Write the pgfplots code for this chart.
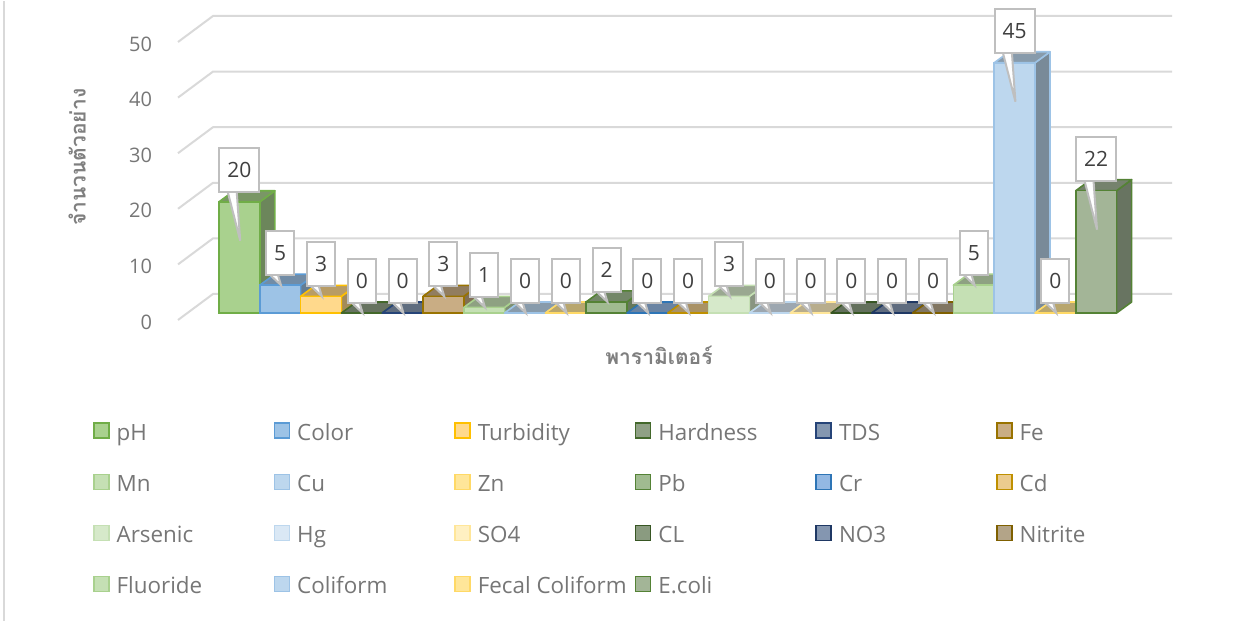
\documentclass[border=0pt]{standalone}
\usepackage{pgfplots}
\pgfplotsset{compat=1.18}
\usepackage{fontspec}
\setmainfont{Open Sans}
\newfontfamily\thaifont[Script=Thai]{Loma}

\definecolor{tickgray}{RGB}{118,118,118}
\definecolor{leggray}{RGB}{118,118,118}
\definecolor{labgray}{RGB}{64,64,64}
\definecolor{titlegray}{RGB}{127,127,127}
\definecolor{gridgray}{RGB}{217,217,217}
\definecolor{callgray}{RGB}{191,191,191}

\newcommand\defbar[3]{%
  \definecolor{#1E}{HTML}{#2}\definecolor{#1F}{HTML}{#3}%
  \colorlet{#1T}{#1F!72!black}\colorlet{#1S}{#1F!64!black}}
\defbar{ca}{70AD47}{A9D18E}   % pH
\defbar{cb}{5B9BD5}{9DC3E6}   % Color
\defbar{cc}{FFC000}{FFD98C}   % Turbidity
\defbar{cd}{43682B}{8FA085}   % Hardness
\defbar{ce}{264478}{8497B0}   % TDS
\defbar{cf}{997300}{C9AD84}   % Fe
\defbar{cg}{A9D18E}{C5E0B4}   % Mn
\defbar{ch}{9DC3E6}{BDD7EE}   % Cu
\defbar{ci}{FFD966}{FFE699}   % Zn
\defbar{cj}{548235}{A0BB90}   % Pb
\defbar{ck}{2E75B6}{93B8E3}   % Cr
\defbar{cl}{BF9000}{EBCB8E}   % Cd
\defbar{cm}{C5E0B4}{D6E9CA}   % Arsenic
\defbar{cn}{BDD7EE}{DAE8F5}   % Hg
\defbar{co}{FFE699}{FFF0C2}   % SO4
\defbar{cp}{375623}{8A9B80}   % CL
\defbar{cq}{1F3864}{8496B0}   % NO3
\defbar{cr}{7F6000}{B3A488}   % Nitrite
\defbar{cs}{A9D18E}{C5E0B4}   % Fluoride
\defbar{ct}{9DC3E6}{BDD7EE}   % Coliform
\defbar{cu}{FFD966}{FFE699}   % Fecal Coliform
\defbar{cv}{548235}{A3B597}   % E.coli

\pgfplotsset{
  mylegend/.style={legend image code/.code={\draw[##1,line width=0.8pt] (0pt,-2.5pt) rectangle (7.5pt,5pt);}},
}

% #1 index, #2 value, #3 colour key, #4 legend text, #5 depth of the callout tip below the bar top
\newcommand\tdbar[5]{%
  \pgfmathsetmacro\xa{#1}%
  \pgfmathsetmacro\xb{#1+1}%
  \pgfmathsetmacro\xc{#1+1.368}%
  \pgfmathsetmacro\xd{#1+0.368}%
  \pgfmathsetmacro\xm{#1+0.5}%
  \pgfmathsetmacro\yt{#2+1.98}%
  \pgfmathsetmacro\tl{#1+0.5-0.3}%
  \pgfmathsetmacro\tr{#1+0.5-0.07}%
  \pgfmathsetmacro\tx{#1+0.5+0.02}%
  \pgfmathsetmacro\yb{#2+2.2}%
  \pgfmathsetmacro\ytip{#2-#5}%
  \addplot[forget plot, fill=#3S, draw=#3E, line width=0.8pt, line join=round]
    coordinates {(\xb,0) (\xc,1.98) (\xc,\yt) (\xb,#2)} -- cycle;
  \addplot[forget plot, fill=#3T, draw=#3E, line width=0.8pt, line join=round]
    coordinates {(\xa,#2) (\xb,#2) (\xc,\yt) (\xd,\yt)} -- cycle;
  \addplot[ybar, bar width=1, bar shift=0pt, fill=#3F, draw=#3E, line width=0.8pt, mylegend]
    coordinates {(\xm,#2)};
  \addlegendentry{\makebox[76.5pt][l]{\strut #4}}
  \addplot[forget plot, fill=white, draw=callgray, line width=1pt, line join=miter]
    coordinates {(\tl,\yb) (\tx,\ytip) (\tr,\yb)};
  \addplot[forget plot, draw=none, mark=none, nodes near coords]
    coordinates {(\xm,#2)};
}

\begin{document}
\begin{tikzpicture}
\begin{axis}[
  scale only axis, width=624.5pt, height=310pt,
  xmin=-5.368, xmax=25.245, ymin=-55.396, ymax=56.115,
  axis line style={draw=none}, tick style={draw=none},
  xtick=\empty, ytick={0,10,20,30,40,50},
  yticklabel style={xshift=79.5pt, yshift=-4.5pt, font=\fontsize{10}{12}\selectfont, text=tickgray},
  /pgf/number format/assume math mode=true,
  clip=false,
  xlabel={พารามิเตอร์},
  xlabel style={at={(axis description cs:0.5276,0.429)}, anchor=center, font=\thaifont\bfseries\fontsize{10.5}{12}\selectfont, text=titlegray},
  ylabel={จำนวนตัวอย่าง},
  ylabel style={at={(axis description cs:0.0617,0.748)}, anchor=center, font=\thaifont\bfseries\fontsize{10.5}{12}\selectfont, text=titlegray},
  legend columns=6,
  legend style={at={(axis description cs:0.0745,0.3255)}, anchor=north west, draw=none, fill=none,
    inner sep=0pt, outer sep=0pt, font=\fontsize{11.2}{12}\selectfont, text=leggray,
    row sep=11.55pt, /tikz/every odd column/.append style={column sep=1.5pt}},
  every node near coord/.style={draw=callgray, line width=1pt, fill=white,
    font=\fontsize{10.5}{12}\selectfont, text=labgray, inner xsep=4pt, inner ysep=0pt,
    minimum height=22pt, text height=7.5pt, text depth=0pt, anchor=south, yshift=4.5pt},
]
% back wall / floor grid lines
\addplot[forget plot, draw=gridgray, line width=1pt] coordinates {(-1.005,-1.26) (-0.147,3.42) (23.36,3.42)};
\addplot[forget plot, draw=gridgray, line width=1pt] coordinates {(-1.005,8.74) (-0.147,13.42) (23.36,13.42)};
\addplot[forget plot, draw=gridgray, line width=1pt] coordinates {(-1.005,18.74) (-0.147,23.42) (23.36,23.42)};
\addplot[forget plot, draw=gridgray, line width=1pt] coordinates {(-1.005,28.74) (-0.147,33.42) (23.36,33.42)};
\addplot[forget plot, draw=gridgray, line width=1pt] coordinates {(-1.005,38.74) (-0.147,43.42) (23.36,43.42)};
\addplot[forget plot, draw=gridgray, line width=1pt] coordinates {(-1.005,48.74) (-0.147,53.42) (23.36,53.42)};

\tdbar{0}{20}{ca}{pH}{7}
\tdbar{1}{5}{cb}{Color}{0}
\tdbar{2}{3}{cc}{Turbidity}{0}
\tdbar{3}{0}{cd}{Hardness}{0}
\tdbar{4}{0}{ce}{TDS}{0}
\tdbar{5}{3}{cf}{Fe}{0}
\tdbar{6}{1}{cg}{Mn}{0}
\tdbar{7}{0}{ch}{Cu}{0}
\tdbar{8}{0}{ci}{Zn}{0}
\tdbar{9}{2}{cj}{Pb}{0}
\tdbar{10}{0}{ck}{Cr}{0}
\tdbar{11}{0}{cl}{Cd}{0}
\tdbar{12}{3}{cm}{Arsenic}{0}
\tdbar{13}{0}{cn}{Hg}{0}
\tdbar{14}{0}{co}{SO4}{0}
\tdbar{15}{0}{cp}{CL}{0}
\tdbar{16}{0}{cq}{NO3}{0}
\tdbar{17}{0}{cr}{Nitrite}{0}
\tdbar{18}{5}{cs}{Fluoride}{0}
\tdbar{19}{45}{ct}{Coliform}{7}
\tdbar{20}{0}{cu}{Fecal Coliform}{0}
\tdbar{21}{22}{cv}{E.coli}{7}

\draw[draw=gridgray, line width=1pt] (axis description cs:0.003,0) -- (axis description cs:0.003,1);
\end{axis}
\end{tikzpicture}
\end{document}
